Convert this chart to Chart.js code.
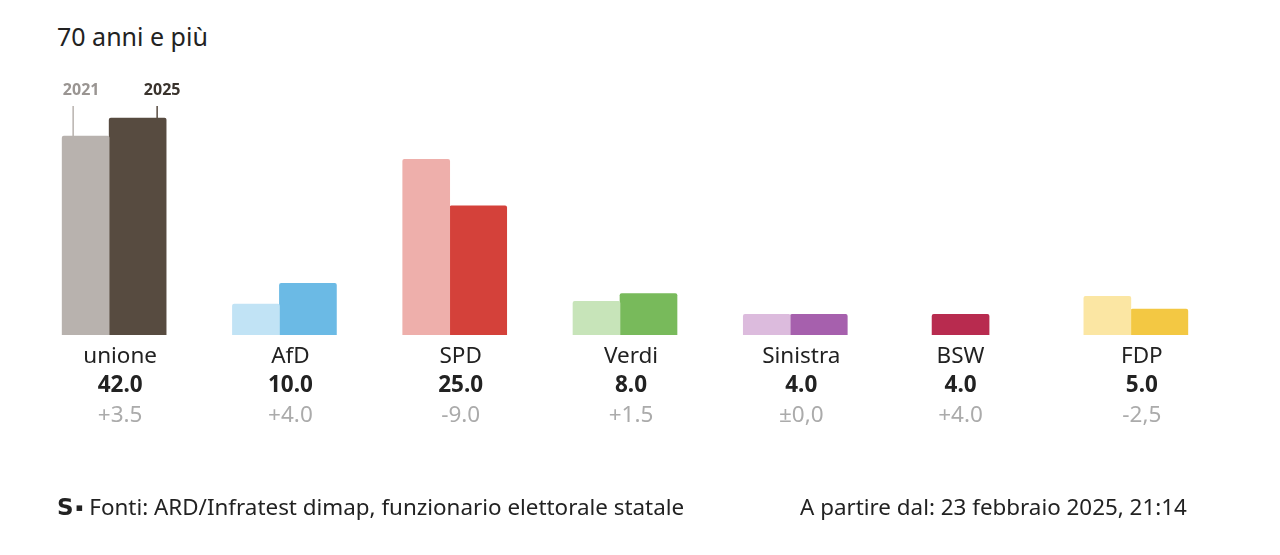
<!DOCTYPE html>
<html lang="it">
<head>
<meta charset="utf-8">
<script src="https://cdn.jsdelivr.net/npm/chart.js@4/dist/chart.umd.min.js"></script>
<style>
  html, body { margin: 0; padding: 0; background: #fff; }
  body { width: 1280px; height: 555px; position: relative; overflow: hidden; font-family: 'Noto Sans', sans-serif; color: #222; }
  #title { position: absolute; left: 57px; top: 19px; font-size: 25px; line-height: 34px; }
  #wrap { position: absolute; left: 0; top: 0; width: 1280px; height: 555px; }
  .foot { position: absolute; top: 492px; font-size: 22.4px; line-height: 30px; color: #222; white-space: nowrap; }
  #src { left: 57px; }
  #src b { font-family: 'DejaVu Sans', sans-serif; font-weight: 900; font-size: 23px; margin-right: 2px; }
  #stand { left: 800px; }
</style>
</head>
<body>
<div id="title">70 anni e più</div>
<div id="wrap"><canvas id="chart"></canvas></div>
<div class="foot" id="src"><b>S</b>▪ Fonti: ARD/Infratest dimap, funzionario elettorale statale</div>
<div class="foot" id="stand">A partire dal: 23 febbraio 2025, 21:14</div>

<script>
const parties = ['unione', 'AfD', 'SPD', 'Verdi', 'Sinistra', 'BSW', 'FDP'];
const values2021 = [38.5, 6.0, 34.0, 6.5, 4.0, null, 7.5];
const values2025 = [42.0, 10.0, 25.0, 8.0, 4.0, 4.0, 5.0];
const valueLabels = ['42.0', '10.0', '25.0', '8.0', '4.0', '4.0', '5.0'];
const changeLabels = ['+3.5', '+4.0', '-9.0', '+1.5', '±0,0', '+4.0', '-2,5'];

const colors2021 = ['#b8b2ae', '#c1e3f5', '#eeafab', '#c7e4b9', '#dcbbdd', '#dcbbdd', '#fbe6a3'];
const colors2025 = ['#574b40', '#6bbae5', '#d4413a', '#78ba5b', '#a660ad', '#b82b4f', '#f3c843'];

// Beschriftungen unter den Balken + Jahreszahlen über der ersten Gruppe
const labelPlugin = {
  id: 'partyLabels',
  afterDatasetsDraw(chart) {
    const ctx = chart.ctx;
    const m0 = chart.getDatasetMeta(0);
    const m1 = chart.getDatasetMeta(1);
    ctx.save();
    ctx.textAlign = 'center';
    ctx.textBaseline = 'middle';
    parties.forEach((name, i) => {
      const bars = [m0.data[i], m1.data[i]].filter((b, k) => b && (k === 0 ? values2021[i] != null : true));
      const lefts = bars.map(b => b.x - b.width / 2);
      const rights = bars.map(b => b.x + b.width / 2);
      let x = (Math.min(...lefts) + Math.max(...rights)) / 2;
      if (bars.length > 1) x += 6;
      ctx.fillStyle = '#222';
      ctx.font = '22.5px "Noto Sans"';
      ctx.fillText(name, x, 357);
      ctx.font = 'bold 22.5px "Noto Sans"';
      ctx.fillText(valueLabels[i], x, 386);
      ctx.fillStyle = '#ababab';
      ctx.font = '22.5px "Noto Sans"';
      ctx.fillText(changeLabels[i], x, 416);
    });

    // 2021 / 2025
    const a = m0.data[0], b = m1.data[0];
    const aLeft = a.x - a.width / 2, bRight = b.x + b.width / 2;
    ctx.font = 'bold 16px "Noto Sans"';
    ctx.fillStyle = '#9a9592';
    ctx.fillText('2021', aLeft + 19, 90);
    ctx.fillStyle = '#3a332d';
    ctx.fillText('2025', bRight - 4, 90);
    ctx.lineWidth = 1.5;
    ctx.strokeStyle = '#b8b2ae';
    ctx.beginPath();
    ctx.moveTo(aLeft + 11, 106);
    ctx.lineTo(aLeft + 11, a.y);
    ctx.stroke();
    ctx.strokeStyle = '#574b40';
    ctx.beginPath();
    ctx.moveTo(bRight - 9, 106);
    ctx.lineTo(bRight - 9, b.y);
    ctx.stroke();
    ctx.restore();
  }
};

new Chart(document.getElementById('chart'), {
  type: 'bar',
  data: {
    labels: parties,
    datasets: [
      {
        label: '2021',
        data: values2021,
        backgroundColor: colors2021,
        barThickness: 47,
        borderRadius: 2,
        borderSkipped: 'bottom'
      },
      {
        label: '2025',
        data: values2025,
        backgroundColor: colors2025,
        barThickness: 57,
        borderRadius: 2,
        borderSkipped: 'bottom'
      }
    ]
  },
  options: {
    responsive: true,
    maintainAspectRatio: false,
    animation: false,
    skipNull: true,
    layout: { padding: { left: 24, right: 64, top: 87, bottom: 220 } },
    plugins: {
      legend: { display: false },
      tooltip: { enabled: false }
    },
    scales: {
      x: { display: false },
      y: { display: false, min: 0, max: 48 }
    }
  },
  plugins: [labelPlugin]
});
</script>
</body>
</html>
